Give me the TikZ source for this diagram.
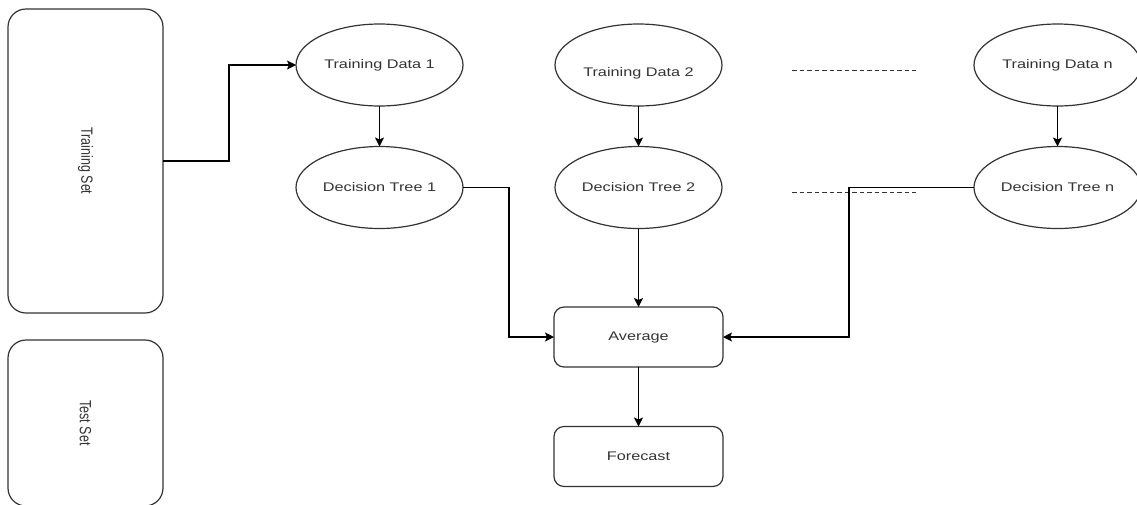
\documentclass[tikz,border=0pt]{standalone}
\usepackage{fontspec}
\setmainfont{Liberation Sans}
\newfontfamily\widefont[FakeStretch=1.3]{Liberation Sans}
\usetikzlibrary{arrows.meta,shapes.geometric}
\definecolor{ln}{HTML}{333333}
\definecolor{tx}{HTML}{333333}
\tikzset{
  base/.style={draw=ln, line width=1.2pt, inner sep=0pt, outer sep=0pt, text=tx,
    font=\widefont\fontsize{12.5}{14}\selectfont},
  setbox/.style={base, rectangle, rounded corners=18pt, minimum width=155pt},
  oval/.style={base, ellipse, minimum width=167pt, minimum height=82pt},
  procbox/.style={base, rectangle, rounded corners=10pt, minimum width=169pt, minimum height=60pt},
  conn/.style={draw=black, line width=1.2pt, -{Stealth[length=9pt,width=9pt,inset=2pt]}},
  dots/.style={draw=ln, line width=1pt, dash pattern=on 4.5pt off 3pt},
  vlabel/.style={rotate=-90, text=tx, inner sep=0pt, font=\fontsize{12.5}{14}\selectfont},
  hlabel/.style={text=tx, inner sep=0pt, font=\widefont\fontsize{12.5}{14}\selectfont}
}
\begin{document}
\begin{tikzpicture}[x=1pt, y=-1pt]
\useasboundingbox (0,0) rectangle (1137,504);
% left boxes
\node[setbox, minimum height=304pt, label={[vlabel]center:\scalebox{1}[1.3]{Training Set}}] (ts) at (85.5,161) {};
\node[setbox, minimum height=166pt, label={[vlabel]center:\scalebox{1}[1.3]{Test Set}}] (tst) at (85.5,423) {};
% ellipses
\node[oval] (td1) at (379.5,65) {Training Data 1};
\node[oval] (dt1) at (379.5,187.5) {Decision Tree 1};
\node[oval, label={[hlabel, yshift=-8pt]center:Training Data 2}] (td2) at (638.5,65) {};
\node[oval] (dt2) at (638.5,187.5) {Decision Tree 2};
\node[oval] (tdn) at (1057.5,65) {Training Data n};
\node[oval] (dtn) at (1057.5,187.5) {Decision Tree n};
% process boxes
\node[procbox] (avg) at (638.5,337) {Average};
\node[procbox] (fc) at (638.5,456.5) {Forecast};
% dashed separators
\coordinate (d1a) at (792,70);
\coordinate (d1b) at (916,70);
\coordinate (d2a) at (792,192);
\coordinate (d2b) at (916,192);
\draw[dots] (d1a) -- (d1b);
\draw[dots] (d2a) -- (d2b);
% connectors
\draw[conn] (ts.east) -| (229,114) |- (td1.west);
\draw[conn] (td1) -- (dt1);
\draw[conn] (td2) -- (dt2);
\draw[conn] (tdn) -- (dtn);
\draw[conn] (dt1.east) -- (509,187.5) -- (509,337) -- (avg.west);
\draw[conn] (dt2) -- (avg);
\draw[conn] (dtn.west) -- (849,187.5) -- (849,337) -- (avg.east);
\draw[conn] (avg) -- (fc);
\end{tikzpicture}
\end{document}
